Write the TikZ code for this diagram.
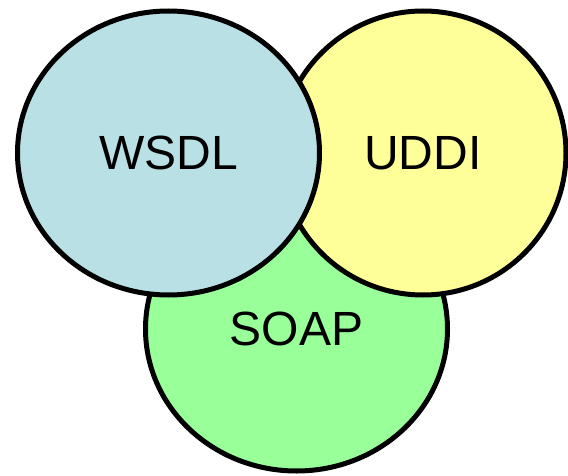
\documentclass[tikz,border=0pt]{standalone}
\usepackage{fontspec}
\setmainfont{Liberation Sans}
\usepackage{xcolor}
\usepackage{tikz}
\usetikzlibrary{shapes.geometric, positioning}
\definecolor{wsdlblue}{HTML}{B9E0E4}
\definecolor{uddiyellow}{HTML}{FFFF99}
\definecolor{soapgreen}{HTML}{99FF99}
\tikzstyle{blob} = [ellipse, draw=black, line width=5pt, minimum width=302pt, minimum height=284pt, inner sep=0pt, font=\fontsize{48}{52}\selectfont]

\begin{document}
\begin{tikzpicture}[x=1pt, y=1pt]

  \useasboundingbox (0,0) rectangle (568,475);

  % Circles, back to front
  \node (soap) [blob, fill=soapgreen] at (296.5,146) {SOAP};
  \node (uddi) [blob, fill=uddiyellow, minimum width=286pt] at (423,322) {UDDI};
  \node (wsdl) [blob, fill=wsdlblue] at (168.5,322) {WSDL};

\end{tikzpicture}
\end{document}
